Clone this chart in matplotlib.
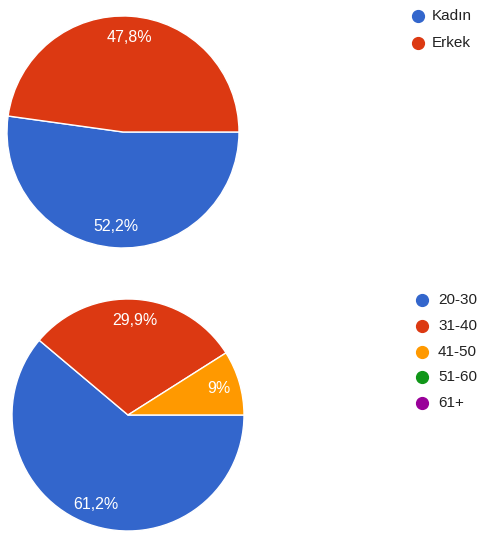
import matplotlib
import matplotlib.pyplot as plt
from matplotlib.lines import Line2D

matplotlib.use("Agg")
plt.rcParams['font.family'] = ['Liberation Sans', 'DejaVu Sans']

W, H = 479, 538

# gender
gender_labels = ["Kadın", "Erkek"]
gender_values = [52.2, 47.8]
gender_colors = ["#3366cc", "#dc3912"]

# age groups
age_labels = ["20-30", "31-40", "41-50", "51-60", "61+"]
age_values = [61.2, 29.9, 9.0, 0.0, 0.0]
age_colors = ["#3366cc", "#dc3912", "#ff9900", "#109618", "#990099"]


def pct_text(v):
    s = ("%.1f" % v).replace(".", ",")
    if s.endswith(",0"):
        s = s[:-2]
    return s + "%"


def draw_pie(fig, cx, cy, r, values, colors, labels, legend_xy, rowh, text_dx):
    ax = fig.add_axes([(cx - r) / W, (H - cy - r) / H, 2 * r / W, 2 * r / H])
    vals = [v for v in values if v > 0]
    cols = [c for v, c in zip(values, colors) if v > 0]
    wedges, texts, autotexts = ax.pie(
        vals, colors=cols, startangle=0, counterclock=False,
        autopct=lambda p: "", pctdistance=0.82,
        wedgeprops=dict(edgecolor="white", linewidth=1.0))
    for t, v in zip(autotexts, vals):
        t.set_text(pct_text(v))
        t.set_color("white")
        t.set_fontsize(11.5)
    ax.set_xlim(-1, 1)
    ax.set_ylim(-1, 1)
    ax.set_aspect("equal")
    ax.axis("off")

    lx, ly = legend_xy
    for i, (lab, c) in enumerate(zip(labels, colors)):
        y = ly + i * rowh
        fig.add_artist(Line2D([lx / W], [1 - y / H], marker="o", markersize=8.5,
                              color=c, linestyle="none", transform=fig.transFigure))
        fig.text((lx + text_dx) / W, 1 - y / H, lab, fontsize=11, color="#222222",
                 va="center", ha="left")


fig = plt.figure(figsize=(W / 100, H / 100), dpi=100)
draw_pie(fig, 123, 132, 116, gender_values, gender_colors, gender_labels, (418, 16), 27, 14)
draw_pie(fig, 128, 415, 116, age_values, age_colors, age_labels, (422, 300), 25.8, 16)

plt.savefig("out.png", dpi=100)
plt.close()
